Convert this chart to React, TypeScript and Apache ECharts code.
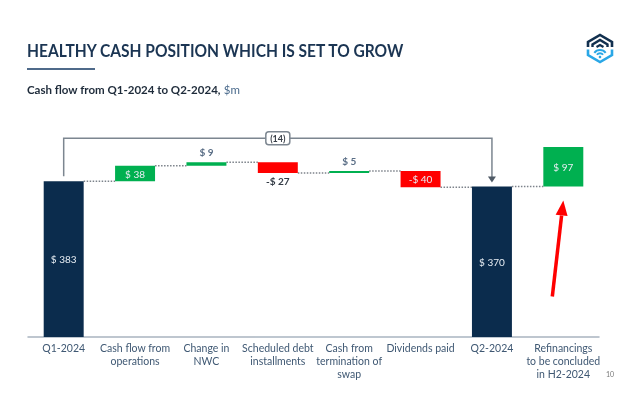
import React, { useEffect, useRef } from "react";
import * as echarts from "echarts";

const categories = [
  "Q1-2024",
  "Cash flow from\noperations",
  "Change in\nNWC",
  "Scheduled debt\ninstallments",
  "Cash from\ntermination of\nswap",
  "Dividends paid",
  "Q2-2024",
  "Refinancings\nto be concluded\nin H2-2024",
];
const values = [383, 38, 9, -27, 5, -40, 370, 97];
const kinds = ["total", "delta", "delta", "delta", "delta", "delta", "total", "delta"];
const valueLabels = ["$ 383", "$ 38", "$ 9", "-$ 27", "$ 5", "-$ 40", "$ 370", "$ 97"];
const changeLabel = "(14)";
const bracketFrom = 0;
const bracketTo = 6;
const arrowTarget = 7;

const NAVY = "#0b2c4d";
const GREEN = "#00b050";
const RED = "#ff0000";
const FONT = "Lato, 'Open Sans', sans-serif";

export default function App() {
  const ref = useRef<HTMLDivElement>(null);

  useEffect(() => {
    if (!ref.current) return;
    const chart = echarts.init(ref.current, undefined, { renderer: "svg" });

    // waterfall computation
    let running = 0;
    const bases: number[] = [];
    const heights: number[] = [];
    const levels: number[] = [];
    values.forEach((v, i) => {
      if (kinds[i] === "total") {
        bases.push(0);
        heights.push(v);
        running = v;
      } else if (v >= 0) {
        bases.push(running);
        heights.push(v);
        running += v;
      } else {
        running += v;
        bases.push(running);
        heights.push(-v);
      }
      levels.push(running);
    });
    const tops = bases.map((b, i) => b + heights[i]);
    const peak = Math.max(...tops.slice(bracketFrom, bracketTo + 1));

    const barData = values.map((v, i) => {
      const color = kinds[i] === "total" ? NAVY : v >= 0 ? GREEN : RED;
      const small = Math.abs(v) < 30;
      let label: any;
      if (!small) {
        label = { show: true, position: "inside", color: "#e8eef4", fontSize: 10, fontFamily: FONT, formatter: valueLabels[i] };
      } else if (v >= 0) {
        label = { show: true, position: "top", distance: 5, color: "#5a6e86", fontSize: 10, fontWeight: "bold", fontFamily: FONT, formatter: valueLabels[i] };
      } else {
        label = { show: true, position: "bottom", distance: 3, color: "#333b45", fontSize: 10, fontWeight: "bold", fontFamily: FONT, formatter: valueLabels[i] };
      }
      return { value: heights[i], itemStyle: { color }, label };
    });

    const connectorData: number[][] = [];
    for (let i = 0; i < values.length - 1; i++) {
      connectorData.push([i, levels[i]]);
    }

    const option: any = {
      animation: false,
      grid: { left: 28, right: 41, top: 93, bottom: 67 },
      xAxis: {
        type: "category",
        data: categories,
        axisLine: { lineStyle: { color: "#a9b4c0", width: 1.5 } },
        axisTick: { show: false },
        axisLabel: {
          interval: 0,
          color: "#3f5873",
          fontSize: 10.5,
          lineHeight: 12.7,
          fontFamily: FONT,
          margin: 5,
        },
      },
      yAxis: { type: "value", min: 0, max: 600, show: false },
      series: [
        {
          type: "bar",
          stack: "w",
          barWidth: "56%",
          data: bases,
          itemStyle: { color: "transparent" },
          silent: true,
        },
        {
          type: "bar",
          stack: "w",
          barWidth: "56%",
          data: barData,
        },
        {
          type: "custom",
          data: connectorData,
          encode: { x: 0, y: 1 },
          z: 1,
          renderItem: (params: any, api: any) => {
            const p = api.coord([api.value(0), api.value(1)]);
            const band = api.size([1, 0])[0];
            const half = band * 0.28;
            return {
              type: "line",
              shape: { x1: p[0] + half, y1: p[1], x2: p[0] + band - half, y2: p[1] },
              style: { stroke: "#7d838b", lineWidth: 1.5, lineDash: [1.5, 1.5] },
            };
          },
        },
        {
          type: "custom",
          data: [[bracketFrom, levels[bracketFrom], bracketTo, levels[bracketTo], peak]],
          encode: { x: 0, y: 1 },
          z: 5,
          renderItem: (params: any, api: any) => {
            const a = api.coord([api.value(0), api.value(1)]);
            const b = api.coord([api.value(2), api.value(3)]);
            const top = api.coord([0, api.value(4)])[1] - 24;
            const ax = a[0];
            const bx = b[0];
            const ay = a[1] - 5;
            const by = b[1] - 4;
            const mx = (ax + bx) / 2;
            return {
              type: "group",
              children: [
                {
                  type: "polyline",
                  shape: { points: [[ax, ay], [ax, top], [bx, top], [bx, by - 5]] },
                  style: { stroke: "#7c8690", lineWidth: 1.5, fill: "none" },
                },
                {
                  type: "polygon",
                  shape: { points: [[bx - 4, by - 6], [bx + 4, by - 6], [bx, by]] },
                  style: { fill: "#4f5a66" },
                },
                {
                  type: "rect",
                  shape: { x: mx - 12, y: top - 6.5, width: 24, height: 13, r: 3 },
                  style: { fill: "#ffffff", stroke: "#7c8690", lineWidth: 1.5 },
                },
                {
                  type: "text",
                  x: mx,
                  y: top + 0.5,
                  style: { text: changeLabel, fill: "#3a4049", font: `bold 9px ${FONT}`, align: "center", verticalAlign: "middle" },
                },
              ],
            };
          },
        },
        {
          type: "custom",
          data: [[arrowTarget, bases[arrowTarget]]],
          encode: { x: 0, y: 1 },
          z: 5,
          renderItem: (params: any, api: any) => {
            const p = api.coord([api.value(0), api.value(1)]);
            const tipX = p[0];
            const tipY = p[1] + 14;
            const tailX = tipX - 11;
            const tailY = tipY + 96;
            const dx = tipX - tailX;
            const dy = tipY - tailY;
            const len = Math.sqrt(dx * dx + dy * dy);
            const ux = dx / len;
            const uy = dy / len;
            const nx = -uy;
            const ny = ux;
            const hl = 15;
            const hw = 6;
            const bxp = tipX - ux * hl;
            const byp = tipY - uy * hl;
            return {
              type: "group",
              children: [
                {
                  type: "line",
                  shape: { x1: tailX, y1: tailY, x2: bxp, y2: byp },
                  style: { stroke: RED, lineWidth: 3.5 },
                },
                {
                  type: "polygon",
                  shape: {
                    points: [
                      [tipX, tipY],
                      [bxp + nx * hw, byp + ny * hw],
                      [bxp - nx * hw, byp - ny * hw],
                    ],
                  },
                  style: { fill: RED },
                },
              ],
            };
          },
        },
      ],
      graphic: [
        {
          type: "text",
          x: 27,
          y: 42,
          scaleX: 0.915,
          style: { text: "HEALTHY CASH POSITION WHICH IS SET TO GROW", fill: "#1b3553", font: `bold 17px ${FONT}` },
        },
        { type: "rect", left: 27, top: 68, shape: { width: 68, height: 2 }, style: { fill: "#4f6a8a" } },
        {
          type: "text",
          x: 27,
          y: 83,
          scaleX: 0.96,
          style: {
            text: "{a|Cash flow from Q1-2024 to Q2-2024, }{b|$m}",
            rich: {
              a: { font: `bold 12px ${FONT}`, fill: "#1e2b3a", color: "#1e2b3a" },
              b: { font: `12px ${FONT}`, fill: "#4a6a8c", color: "#4a6a8c" },
            },
          },
        },
        {
          type: "text",
          left: 606,
          top: 370,
          style: { text: "10", fill: "#777", font: `7px ${FONT}` },
        },
        {
          type: "group",
          children: [
            { type: "polyline", shape: { points: [[588, 47], [588, 42], [600, 35], [612, 42], [612, 47]] }, style: { stroke: "#12304f", lineWidth: 2.6, fill: "none" } },
            { type: "polyline", shape: { points: [[592.5, 47], [592.5, 44.5], [600, 40], [607.5, 44.5], [607.5, 47]] }, style: { stroke: "#12304f", lineWidth: 2.4, fill: "none" } },
            { type: "polyline", shape: { points: [[596.5, 47], [600, 45], [603.5, 47]] }, style: { stroke: "#12304f", lineWidth: 2.2, fill: "none" } },
            { type: "polyline", shape: { points: [[588, 49.5], [588, 55], [600, 62], [612, 55], [612, 49.5]] }, style: { stroke: "#2aa7e6", lineWidth: 2.6, fill: "none" } },
            { type: "arc", shape: { cx: 600, cy: 57, r: 7, startAngle: -Math.PI * 0.8, endAngle: -Math.PI * 0.2, clockwise: true }, style: { stroke: "#2aa7e6", lineWidth: 2, fill: "none" } },
            { type: "arc", shape: { cx: 600, cy: 57, r: 3.8, startAngle: -Math.PI * 0.8, endAngle: -Math.PI * 0.2, clockwise: true }, style: { stroke: "#2aa7e6", lineWidth: 2, fill: "none" } },
            { type: "circle", shape: { cx: 600, cy: 57, r: 1.3 }, style: { fill: "#2aa7e6" } },
          ],
        },
      ],
    };

    chart.setOption(option);
    return () => chart.dispose();
  }, []);

  return <div ref={ref} style={{ position: "fixed", left: 0, top: 0, width: 640, height: 404 }} />;
}
